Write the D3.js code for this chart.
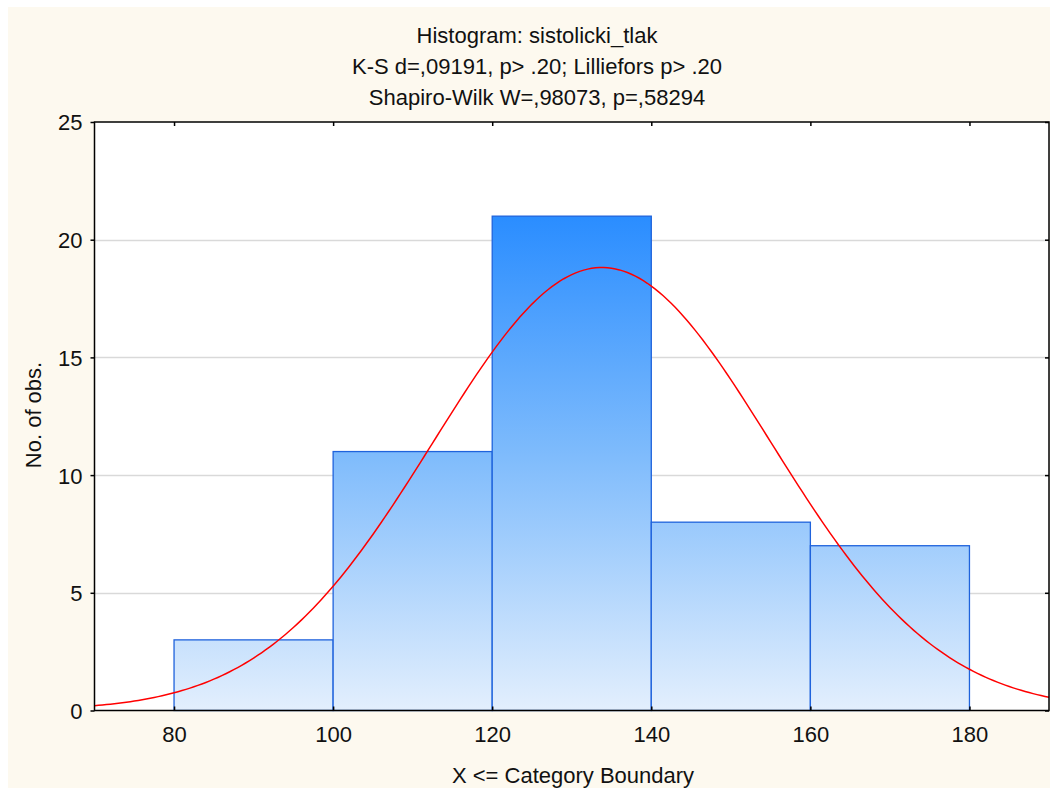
<!DOCTYPE html>
<html>
<head>
<meta charset="utf-8">
<script src="https://cdn.jsdelivr.net/npm/d3@7/dist/d3.min.js"></script>
<style>
  html, body { margin: 0; padding: 0; background: #fff; }
  svg { display: block; font-family: Arial, "Liberation Sans", sans-serif; }
</style>
</head>
<body>
<svg width="1050" height="788"></svg>
<script>
// bins (upper category boundary) and counts
const binStarts = [80, 100, 120, 140, 160];
const binWidth = 20;
const counts = [3, 11, 21, 8, 7];
const xTicks = [80, 100, 120, 140, 160, 180];
const yTicks = [0, 5, 10, 15, 20, 25];
const titleLines = [
    'Histogram: sistolicki_tlak',
    'K-S d=,09191, p> .20; Lilliefors p> .20',
    'Shapiro-Wilk W=,98073, p=,58294'
];
// fitted normal curve parameters
const fitMean = 133.8;
const fitSd = 21.2;

const svg = d3.select('svg');
const width = 1050;
const height = 788;
const margin = {top: 122, right: 1, bottom: 77.5, left: 94.5};
const pw = width - margin.left - margin.right;
const ph = height - margin.top - margin.bottom;

svg.append('rect')
.attr('x', 8).attr('y', 7)
.attr('width', width - 8).attr('height', height - 7)
.attr('fill', '#fdf9ef');

const x = d3.scaleLinear().domain([70, 190]).range([0, pw]);
const y = d3.scaleLinear().domain([0, 25]).range([ph, 0]);

const defs = svg.append('defs');
const grad = defs.append('linearGradient')
.attr('id', 'barGrad')
.attr('gradientUnits', 'userSpaceOnUse')
.attr('x1', 0).attr('x2', 0)
.attr('y1', y(21)).attr('y2', y(0));
grad.append('stop').attr('offset', '0%').attr('stop-color', '#2a8dff');
grad.append('stop').attr('offset', '48%').attr('stop-color', '#7ebbfc');
grad.append('stop').attr('offset', '100%').attr('stop-color', '#e3effd');

const g = svg.append('g')
.attr('transform', `translate(${margin.left},${margin.top})`);

g.append('rect')
.attr('width', pw).attr('height', ph)
.attr('fill', '#fff');

// grid
g.append('g')
.selectAll('line')
.data(yTicks.filter(t => t > 0 && t < 25))
.enter().append('line')
.attr('x1', 0).attr('x2', pw)
.attr('y1', d => Math.round(y(d)) + 0.5)
.attr('y2', d => Math.round(y(d)) + 0.5)
.attr('stroke', '#d9d9d9')
.attr('stroke-width', 1.5);

// bars
g.append('g')
.selectAll('rect')
.data(counts)
.enter().append('rect')
.attr('x', (d, i) => x(binStarts[i]))
.attr('y', d => y(d))
.attr('width', (d, i) => x(binStarts[i] + binWidth) - x(binStarts[i]))
.attr('height', d => y(0) - y(d))
.attr('fill', 'url(#barGrad)')
.attr('stroke', '#1f63dc')
.attr('stroke-width', 1.3);

// normal curve
const curveXs = d3.range(70, 190.01, 0.5);
const total = d3.sum(counts);
const normal = v => total * binWidth / (fitSd * Math.sqrt(2 * Math.PI))
    * Math.exp(-0.5 * Math.pow((v - fitMean) / fitSd, 2));
g.append('path')
.datum(curveXs)
.attr('fill', 'none')
.attr('stroke', '#ff0000')
.attr('stroke-width', 1.5)
.attr('d', d3.line().x(d => x(d)).y(d => y(normal(d))));

// frame
g.append('rect')
.attr('width', pw).attr('height', ph)
.attr('fill', 'none')
.attr('stroke', '#000')
.attr('stroke-width', 1.5);

// axes
const bottomAxis = g.append('g')
.attr('transform', `translate(0,${ph})`)
.call(d3.axisBottom(x).tickValues(xTicks).tickSizeInner(-4).tickSizeOuter(0).tickPadding(16));
const topAxis = g.append('g')
.call(d3.axisTop(x).tickValues(xTicks).tickSizeInner(-4).tickSizeOuter(0).tickFormat(''));
const leftAxis = g.append('g')
.call(d3.axisLeft(y).tickValues(yTicks).tickSizeInner(4).tickSizeOuter(0).tickPadding(8));
const rightAxis = g.append('g')
.attr('transform', `translate(${pw},0)`)
.call(d3.axisRight(y).tickValues(yTicks).tickSizeInner(-4).tickSizeOuter(0).tickFormat(''));

[bottomAxis, topAxis, leftAxis, rightAxis].forEach(a => {
    a.select('.domain').remove();
    a.selectAll('line').attr('stroke', '#000').attr('stroke-width', 1.5);
    a.selectAll('text')
    .attr('fill', '#111')
    .style('font-family', 'Arial, "Liberation Sans", sans-serif')
    .style('font-size', '22px');
});
leftAxis.selectAll('text').attr('dy', '0.36em');

// titles
svg.append('g')
.selectAll('text')
.data(titleLines)
.enter().append('text')
.attr('x', 537)
.attr('y', (d, i) => 42.5 + i * 31)
.attr('text-anchor', 'middle')
.attr('fill', '#111')
.style('font-size', '22px')
.text(d => d);

svg.append('text')
.attr('x', 573).attr('y', 783)
.attr('text-anchor', 'middle')
.attr('fill', '#111')
.style('font-size', '22px')
.text('X <= Category Boundary');

svg.append('text')
.attr('transform', 'translate(41,415) rotate(-90)')
.attr('text-anchor', 'middle')
.attr('fill', '#111')
.style('font-size', '22px')
.text('No. of obs.');
</script>
</body>
</html>
